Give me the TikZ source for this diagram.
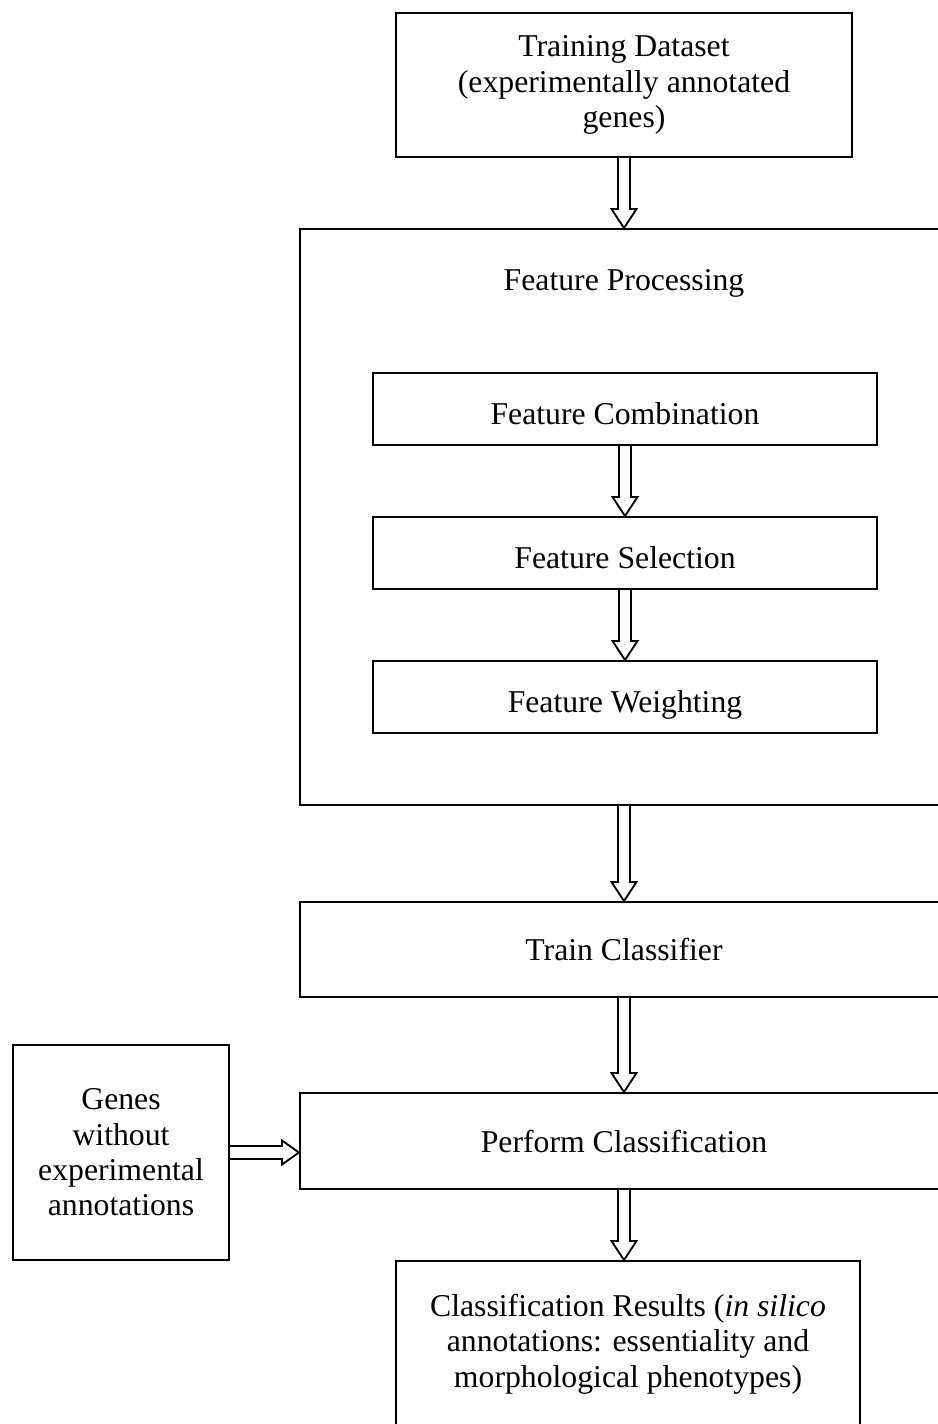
\documentclass[tikz,border=0pt]{standalone}
\usepackage{fontspec}
\setmainfont{Liberation Serif}
\usetikzlibrary{calc}

% coordinates are pixels of a 938 x 1424 canvas (1 px = 0.75 pt, y downwards)
\tikzset{
  box/.style={draw, line width=1.5pt, rectangle, inner sep=0pt, align=center,
              font=\fontsize{23.8}{26.5}\selectfont},
  stage/.style={box, minimum width=378pt, minimum height=54pt,
                text height=27.5pt, text depth=5pt},
  caption/.style={inner sep=0pt, align=center, font=\fontsize{23.8}{26.5}\selectfont},
  conn/.style={draw, line width=1.4pt, line join=miter},
}

% hollow block arrow pointing down from the bottom of #1 to the top of #2
\newcommand\hollowdown[2]{%
  \draw[conn] ($(#1.south)+(-6,0)$)
    -- ($(#1.south |- #2.north)+(-6,-19)$)
    -- ($(#1.south |- #2.north)+(-12.5,-19)$)
    -- (#1.south |- #2.north)
    -- ($(#1.south |- #2.north)+(12.5,-19)$)
    -- ($(#1.south |- #2.north)+(6,-19)$)
    -- ($(#1.south)+(6,0)$);
}

\begin{document}
\begin{tikzpicture}[x=0.75pt, y=-0.75pt]
  \clip (0,0) rectangle (938,1424);
  \fill[white] (0,0) rectangle (938,1424);

  % main column
  \node[box, minimum width=342pt, minimum height=108pt] (train) at (624,85)
    {Training Dataset\\(experimentally annotated\\genes)};

  \node[box, minimum width=486pt, minimum height=432pt] (proc) at (624,517) {};
  \node[caption] (proclabel) at (624,283.5) {Feature Processing};

  \node[stage] (comb) at (625,409) {Feature Combination};
  \node[stage] (sel)  at (625,553) {Feature Selection};
  \node[stage] (wgt)  at (625,697) {Feature Weighting};

  \node[box, minimum width=486pt, minimum height=71.25pt] (clf) at (624,949.5) {Train Classifier};
  \node[box, minimum width=486pt, minimum height=72pt] (perf) at (624,1141) {Perform Classification};

  \node[box, minimum width=348pt, minimum height=124.5pt] (res) at (628,1344)
    {Classification Results (\textit{in silico}\\annotations: essentiality and\\morphological phenotypes)};

  % side input
  \node[box, minimum width=162pt, minimum height=161.25pt] (genes) at (121,1152.5)
    {Genes\\without\\experimental\\annotations};

  % connectors
  \hollowdown{train}{proc}
  \hollowdown{comb}{sel}
  \hollowdown{sel}{wgt}
  \hollowdown{proc}{clf}
  \hollowdown{clf}{perf}
  \hollowdown{perf}{res}

  \draw[conn] ($(genes.east)+(0,-6.5)$)
    -- ($(genes.east -| perf.west)+(-17,-6.5)$)
    -- ($(genes.east -| perf.west)+(-17,-12)$)
    -- (genes.east -| perf.west)
    -- ($(genes.east -| perf.west)+(-17,12)$)
    -- ($(genes.east -| perf.west)+(-17,6.5)$)
    -- ($(genes.east)+(0,6.5)$);
\end{tikzpicture}
\end{document}
